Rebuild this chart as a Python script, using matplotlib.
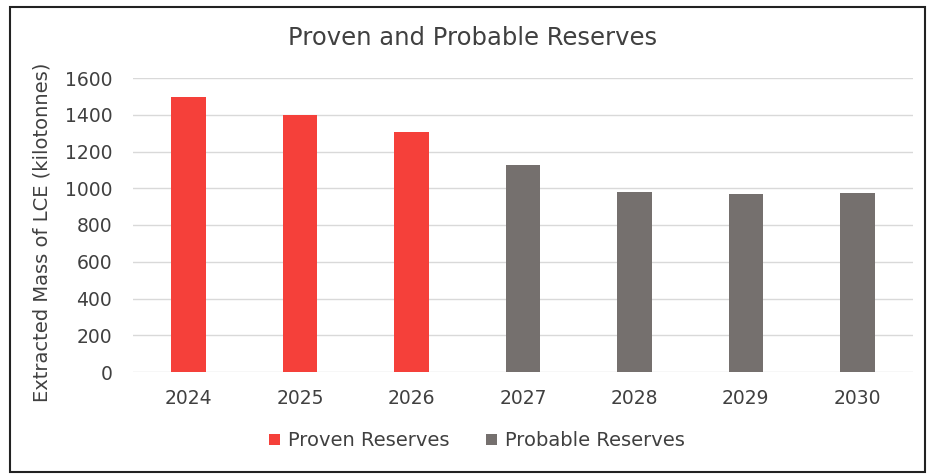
import matplotlib
matplotlib.use("Agg")
import matplotlib.pyplot as plt
from matplotlib.patches import Rectangle

years = ["2024", "2025", "2026", "2027", "2028", "2029", "2030"]
proven_years = ["2024", "2025", "2026"]
proven_values = [1495, 1400, 1307]
probable_years = ["2027", "2028", "2029", "2030"]
probable_values = [1127, 980, 968, 975]
yticks = [0, 200, 400, 600, 800, 1000, 1200, 1400, 1600]

plt.rcParams['font.family'] = ['DejaVu Sans']
txt = '#404040'

fig = plt.figure(figsize=(9.27, 4.75), dpi=100)
fig.patches.append(Rectangle((10/927, 1-472/475), 915/927, 465/475, transform=fig.transFigure,
                             fill=False, edgecolor='#222222', linewidth=1.5))
ax = fig.add_axes([133/927, 1-372/475, 780/927, 294/475])
x_index = {y: i for i, y in enumerate(years)}
ax.bar([x_index[y] for y in proven_years], proven_values, width=0.31, color='#F5403A', label='Proven Reserves', zorder=3)
ax.bar([x_index[y] for y in probable_years], probable_values, width=0.31, color='#75706E', label='Probable Reserves', zorder=3)
ax.set_xlim(-0.5, len(years) - 0.5)
ax.set_ylim(0, 1600)
ax.set_yticks(yticks)
ax.set_xticks(range(len(years)))
ax.set_xticklabels(years)
ax.grid(axis='y', color='#D9D9D9', linewidth=1, zorder=0)
for s in ax.spines.values():
    s.set_visible(False)
ax.tick_params(axis='both', length=0, labelsize=13.5, labelcolor=txt)
ax.tick_params(axis='y', pad=15)
ax.tick_params(axis='x', pad=12)
ax.set_ylabel('Extracted Mass of LCE (kilotonnes)', fontsize=14, color=txt)
ax.yaxis.set_label_coords(-0.105, 0.476)
fig.text(473/927, 1-38/475, 'Proven and Probable Reserves', ha='center', va='center', fontsize=17.5, color=txt)
leg = fig.legend(loc='center', bbox_to_anchor=(477/927, 1-441/475), ncol=2, frameon=False,
                 fontsize=14, handlelength=0.55, handleheight=0.55, handletextpad=0.4, columnspacing=1.9)
for t in leg.get_texts():
    t.set_color(txt)
fig.savefig('out.png', dpi=100)
